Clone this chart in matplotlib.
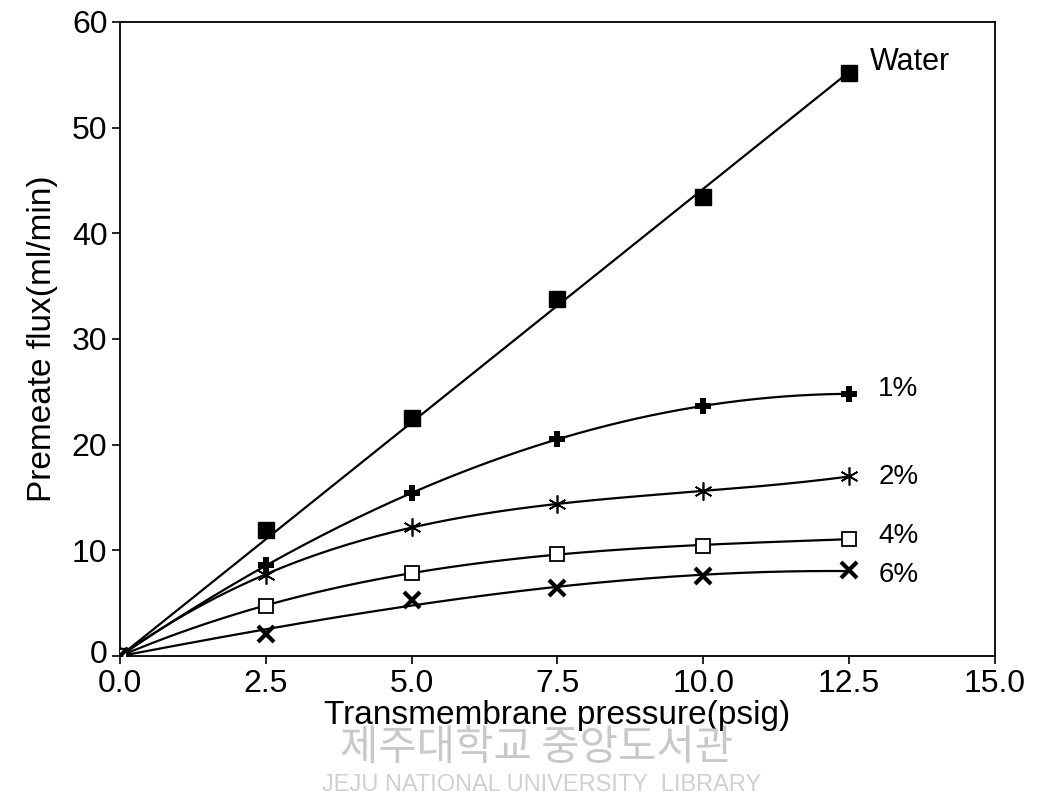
import numpy as np
import matplotlib.pyplot as plt
import matplotlib as mpl
from matplotlib.transforms import ScaledTranslation

mpl.rcParams["font.family"] = ["Liberation Sans", "DejaVu Sans"]
mpl.rcParams["font.size"] = 23

# transmembrane pressure (psig)
pressure = [0.0, 2.5, 5.0, 7.5, 10.0, 12.5]

# premeate flux (ml/min)
water = [0.0, 11.9, 22.5, 33.8, 43.4, 55.2]
conc_1 = [0.0, 8.6, 15.4, 20.5, 23.7, 24.8]
conc_2 = [0.0, 7.7, 12.2, 14.4, 15.6, 17.0]
conc_4 = [0.0, 4.7, 7.9, 9.7, 10.4, 11.1]
conc_6 = [0.0, 2.1, 5.3, 6.4, 7.6, 8.1]

labels = ["Water", "1%", "2%", "4%", "6%"]

xticks = [0.0, 2.5, 5.0, 7.5, 10.0, 12.5, 15.0]
yticks = [0, 10, 20, 30, 40, 50, 60]


def fit_curve(x, y, deg):
    # least squares polynomial forced through the origin
    x = np.asarray(x)
    A = np.column_stack([x ** k for k in range(1, deg + 1)])
    c, *_ = np.linalg.lstsq(A, np.asarray(y), rcond=None)
    xs = np.linspace(0, x.max(), 200)
    ys = sum(c[k - 1] * xs ** k for k in range(1, deg + 1))
    return xs, ys


fig = plt.figure(figsize=(10.37, 8.09), dpi=100)
ax = fig.add_axes([0.1157, 0.189, 0.8438, 0.784])

series = [
    (water, 1, dict(marker="s", ms=11, mfc="black", mec="black")),
    (conc_1, 3, dict(marker="P", ms=11, mfc="black", mec="black", mew=0)),
    (conc_2, 3, dict(marker=(6, 2, 0), ms=13, mec="black", mew=1.2)),
    (conc_4, 3, dict(marker="s", ms=10, mfc="white", mec="black", mew=1.3)),
    (conc_6, 3, dict(marker="x", ms=11, mec="black", mew=3)),
]

for y, deg, mk in series:
    xs, ys = fit_curve(pressure, y, deg)
    ax.plot(xs, ys, color="black", lw=1.6, zorder=2)
    ax.plot(pressure, y, ls="none", zorder=3, **mk)

# end labels
ax.text(12.85, 56.2, labels[0], fontsize=22, va="center")
ax.text(13.0, 25.3, labels[1], fontsize=20, va="center")
ax.text(13.0, 16.9, labels[2], fontsize=20, va="center")
ax.text(13.0, 11.4, labels[3], fontsize=20, va="center")
ax.text(13.0, 7.7, labels[4], fontsize=20, va="center")

ax.set_xlim(0, 15)
ax.set_ylim(0, 60)
ax.set_xticks(xticks)
ax.set_xticklabels([f"{t:.1f}" for t in xticks])
ax.set_yticks(yticks)
ax.tick_params(direction="out", length=6, width=1.2)
ax.tick_params(axis="x", pad=3)
ax.tick_params(axis="y", pad=3)
for s in ax.spines.values():
    s.set_linewidth(1.3)

# nudge the y "0" up a little so it clears the x "0.0"
zero = ax.get_yticklabels()[0]
zero.set_transform(zero.get_transform() + ScaledTranslation(0, 3 / 72, fig.dpi_scale_trans))

ax.set_xlabel("Transmembrane pressure(psig)", fontsize=24, labelpad=1)
ax.set_ylabel("Premeate flux(ml/min)", fontsize=24, labelpad=10)

# library watermark
fig.text(0.517, 0.0754, "제주대학교 중앙도서관", fontsize=30, color="#c8c8c8",
         ha="center", va="center", family=["Noto Sans CJK KR", "DejaVu Sans"])
fig.text(0.522, 0.030, "JEJU NATIONAL UNIVERSITY  LIBRARY", fontsize=17,
         color="#d0d0d0", ha="center", va="center")

fig.savefig("out.png", dpi=100)
